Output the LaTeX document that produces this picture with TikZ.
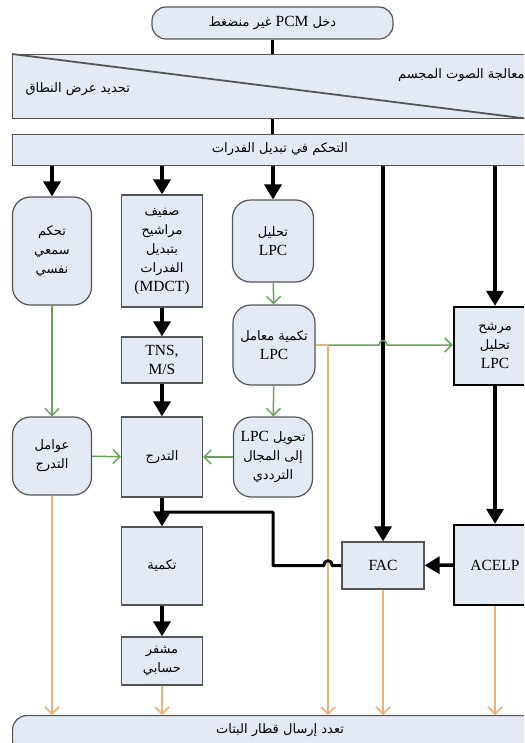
\documentclass[tikz,border=0pt]{standalone}
\usepackage{fontspec}
\setmainfont{Liberation Serif}
\newfontfamily\arabicfont[Script=Arabic]{DejaVu Sans}
\TeXXeTstate=1
\usetikzlibrary{arrows.meta}

\definecolor{boxfill}{RGB}{228,234,244}
\definecolor{boxline}{RGB}{85,85,85}
\definecolor{sigGreen}{RGB}{104,163,92}
\definecolor{sigOrange}{RGB}{232,178,124}
\newcommand{\artext}[1]{{\arabicfont\fontsize{13}{19}\selectfont\beginR #1\endR}}
\newcommand{\latword}[1]{{\rmfamily\fontsize{15.5}{19}\selectfont\beginL #1\endL}}

\begin{document}
\begin{tikzpicture}[x=1pt,y=-1pt,
    font=\fontsize{15.5}{19}\selectfont,
    box/.style={draw=boxline, line width=1.2pt, fill=boxfill, align=center, inner sep=1pt},
    rbox/.style={box, rounded corners=18pt},
    heavybox/.style={box, draw=black, line width=2.4pt},
    blk/.style={line width=3.5pt, -{Triangle[length=15pt,width=17pt]}},
    blkline/.style={line width=3.5pt},
    grn/.style={sigGreen, line width=1.5pt, -{Straight Barb[length=7pt,width=14pt]}},
    org/.style={sigOrange, line width=1.6pt, -{Straight Barb[length=7pt,width=14pt]}}]
    \useasboundingbox (0,0) rectangle (524,743);
    \clip (0,0) rectangle (524,743);

    \node[box, rounded corners=14pt, minimum width=241pt, minimum height=32pt] (input) at (272.5,23) {\artext{دخل \latword{PCM} غير منضغط}};
    \node[box, anchor=north west, minimum width=518pt, minimum height=64pt] (stereo) at (12,54) {};
    \draw[boxline, line width=1.8pt] (stereo.north west) -- (stereo.south east);
    \node[anchor=east] (stereotext) at (528,75) {\artext{معالجة الصوت المجسم}};
    \node[anchor=west] (bandtext) at (22,89) {\artext{تحديد عرض النطاق}};
    \node[box, anchor=north west, minimum width=518pt, minimum height=31pt] (switch) at (12,134) {};
    \node (switchtext) at (280,149) {\artext{التحكم في تبديل الفدرات}};

    \node[rbox, minimum width=79pt, minimum height=108pt] (psy) at (52,251) {\artext{تحكم}\\\artext{سمعي}\\\artext{نفسي}};
    \node[box, minimum width=81pt, minimum height=112pt] (mdct) at (162,251) {\artext{صفيف}\\\artext{مراشيح}\\\artext{بتبديل}\\\artext{الفدرات}\\(MDCT)};
    \node[rbox, minimum width=81pt, minimum height=82pt] (lpca) at (273,241) {\artext{تحليل}\\LPC};
    \node[box, minimum width=81pt, minimum height=46pt] (tns) at (162,360) {TNS,\\M/S};
    \node[rbox, minimum width=82pt, minimum height=80pt] (lpcq) at (274,345) {\artext{تكمية معامل}\\LPC};
    \node[heavybox, minimum width=82pt, minimum height=78pt] (lpcf) at (495,346) {\artext{مرشح}\\\artext{تحليل}\\LPC};
    \node[rbox, minimum width=79pt, minimum height=78pt] (sf) at (52,456) {\artext{عوامل}\\\artext{التدرج}};
    \node[box, minimum width=81pt, minimum height=80pt] (scal) at (162,457) {\artext{التدرج}};
    \node[rbox, minimum width=79pt, minimum height=80pt] (lpcc) at (273,457) {\artext{تحويل \latword{LPC}}\\\artext{إلى المجال}\\\artext{الترددي}};
    \node[box, minimum width=81pt, minimum height=78pt] (quant) at (162,566) {\artext{تكمية}};
    \node[box, minimum width=81pt, minimum height=48pt] (arith) at (162,661) {\artext{مشفر}\\\artext{حسابي}};
    \node[box, minimum width=82pt, minimum height=47pt] (fac) at (383,565.5) {FAC};
    \node[heavybox, minimum width=82pt, minimum height=80pt] (acelp) at (495,565) {ACELP};
    \node[box, rounded corners=14pt, anchor=north west, minimum width=528pt, minimum height=40pt] (mux) at (12,715) {};
    \node (muxtext) at (280,730) {\artext{تعدد إرسال قطار البتات}};

    \coordinate (tap) at (328,345);
    \coordinate (join) at (162,512);

    \draw[blkline] (input.south) -- (input.south |- stereo.north);
    \draw[blkline] (input.south |- stereo.south) -- (input.south |- switch.north);
    \draw[blk] (psy.north |- switch.south) -- (psy.north);
    \draw[blk] (mdct.north |- switch.south) -- (mdct.north);
    \draw[blk] (lpca.north |- switch.south) -- (lpca.north);
    \draw[blk] (fac.north |- switch.south) -- (fac.north);
    \draw[blk] (lpcf.north |- switch.south) -- (lpcf.north);
    \draw[blk] (mdct) -- (tns);
    \draw[blk] (tns) -- (scal);
    \draw[blk] (scal) -- (quant);
    \draw[blk] (quant) -- (arith);
    \draw[blk] (lpcf) -- (acelp);
    \draw[blk] (acelp) -- (fac);

    \draw[grn] (lpca) -- (lpcq);
    \draw[grn] (lpcq) -- (lpcc);
    \draw[grn] (psy) -- (sf);
    \draw[grn] (sf) -- (scal);
    \draw[grn] (lpcc) -- (scal);
    \draw[sigOrange, line width=1.6pt] (lpcq.east |- tap) -- (tap);
    \draw[grn] (tap) -- (379,345) .. controls (379,339) and (387,339) .. (387,345) -- (tap -| lpcf.west);

    \draw[org] (sf.south) -- (sf.south |- mux.north);
    \draw[org] (arith.south) -- (arith.south |- mux.north);
    \draw[org] (tap) -- (tap |- mux.north);
    \draw[org] (fac.south) -- (fac.south |- mux.north);
    \draw[org] (acelp.south) -- (acelp.south |- mux.north);

    \draw[line width=3pt, line join=round] (fac.west) -- (332,565.5) .. controls (332,559) and (324,559) .. (324,565.5) -- (273,565.5) -- (273,512) -- (join);
\end{tikzpicture}
\end{document}
